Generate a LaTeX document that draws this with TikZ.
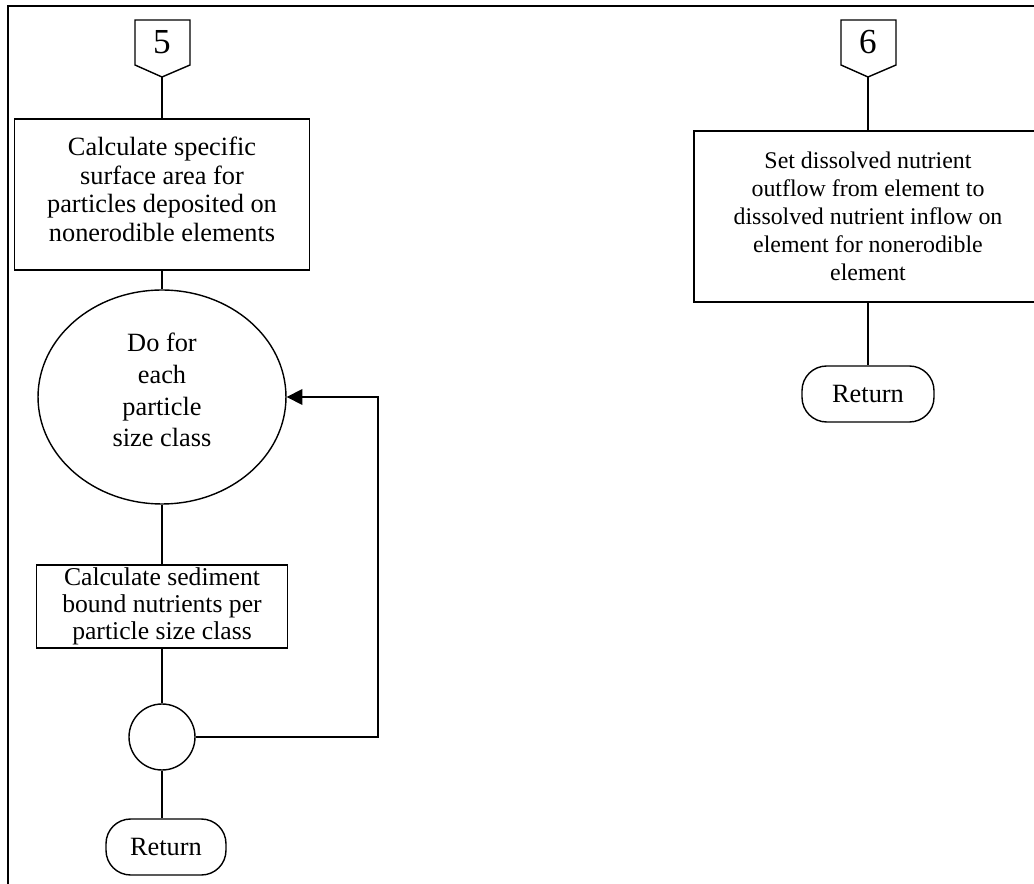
\documentclass[tikz,border=0pt]{standalone}
\usepackage{fontspec}
\setmainfont{Liberation Serif}
\usetikzlibrary{arrows.meta,shapes.geometric}

\begin{document}
\begin{tikzpicture}[x=0.02cm, y=-0.02cm,
    every node/.style={font=\fontsize{15}{16.4}\selectfont},
    line/.style={black, line width=0.8pt},
    procbox/.style={draw, line width=0.8pt, align=center, inner sep=0pt},
    loopell/.style={draw, ellipse, line width=0.8pt, align=center,
      inner sep=0pt, font=\fontsize{15}{18}\selectfont},
    retbox/.style={draw, rounded corners=14pt, line width=0.8pt,
      inner sep=0pt, minimum height=1.12cm},
    joint/.style={draw, circle, line width=0.8pt, inner sep=0pt,
      minimum size=1.32cm}]

    \useasboundingbox (0,0) rectangle (1034,884);

    % frame
    \draw[line width=1.3pt] (8,900) -- (8,6) -- (1050,6);

    % left page: connector 5
    \draw[line] (135,20) -- (190,20) -- (190,65) -- (162,77)
    coordinate (tip5) -- (135,65) -- cycle;
    \node[font=\fontsize{20}{22}\selectfont] (off5) at (162,42) {5};

    % steps
    \node[procbox, minimum width=5.9cm, minimum height=3.02cm,
      text depth=6pt] (calc1) at (162,194.5) {Calculate specific\\surface
      area for\\particles deposited on\\nonerodible elements};
    \node[loopell, minimum width=4.96cm, minimum height=4.28cm,
      text depth=8pt] (doloop) at (162,397) {Do for\\each\\particle\\size
      class};
    \node[procbox, minimum width=5.02cm, minimum height=1.66cm,
      font=\fontsize{14.6}{15.2}\selectfont] (calc2) at (162,606.5)
    {Calculate sediment\\bound nutrients per\\particle size class};
    \node[joint] (joint1) at (162,737) {};
    \node[retbox, minimum width=2.4cm] (ret1) at (166,847) {Return};
    \coordinate (loopback) at (378,397);

    % connectors
    \draw[line] (tip5) -- (calc1);
    \draw[line] (calc1) -- (doloop);
    \draw[line] (doloop) -- (calc2);
    \draw[line] (calc2) -- (joint1);
    \draw[line] (joint1) -- (joint1 |- ret1.north);
    \draw[line, -{Triangle[length=9pt, width=9pt]}] (joint1.east)
    -| (loopback) -- (doloop.east);

    % right page: connector 6
    \draw[line] (841,20) -- (896,20) -- (896,65) -- (868,77)
    coordinate (tip6) -- (841,65) -- cycle;
    \node[font=\fontsize{20}{22}\selectfont] (off6) at (868,42) {6};

    \node[procbox, minimum width=6.96cm, minimum height=3.42cm,
      font=\fontsize{13.6}{15.9}\selectfont]
    (setout) at (868,216.5) {Set dissolved nutrient\\outflow from element
      to\\dissolved nutrient inflow on\\element for nonerodible\\element};
    \node[retbox, minimum width=2.64cm] (ret2) at (868,394) {Return};

    \draw[line] (tip6) -- (setout);
    \draw[line] (setout) -- (ret2);
  \end{tikzpicture}
\end{document}
